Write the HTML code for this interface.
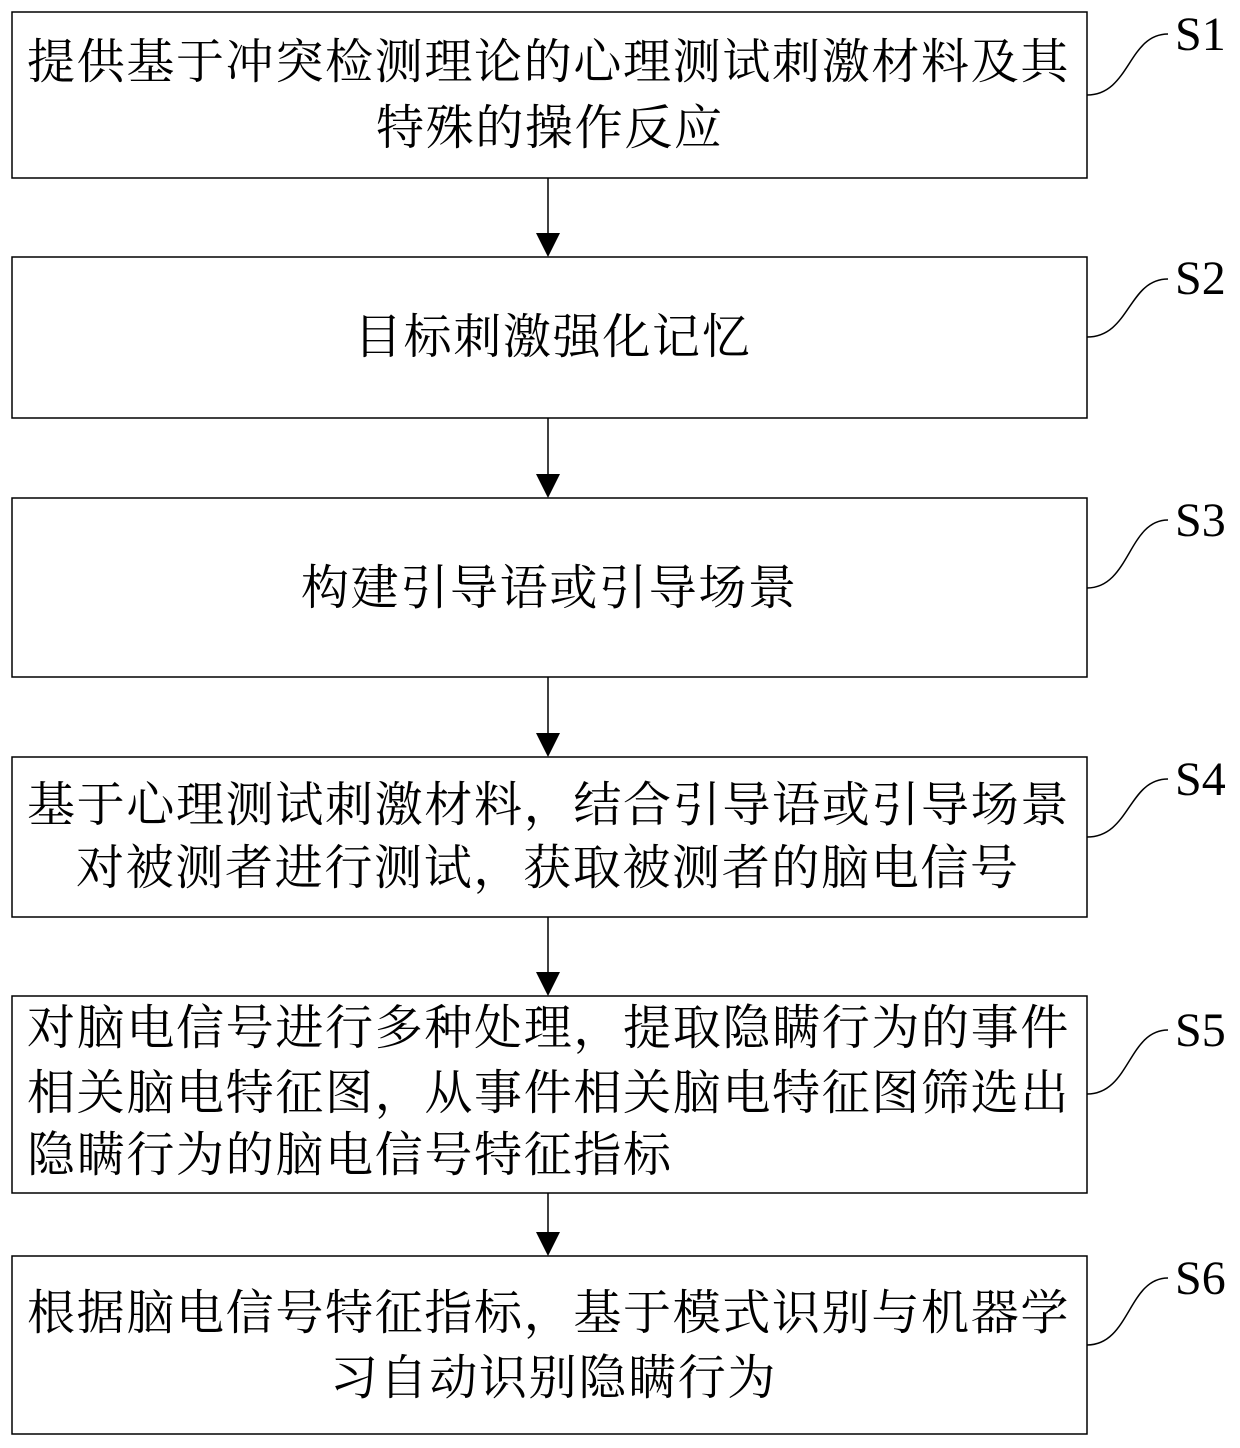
<!DOCTYPE html>
<html><head><meta charset="utf-8"><style>
html,body{margin:0;padding:0;background:#fff;}
svg{display:block;}
text{font-family:"Liberation Serif","Noto Serif CJK SC",serif;fill:#000;}
.c{font-size:48px;letter-spacing:1.67px;}
.s{font-size:48px;}
</style></head><body>
<svg width="1240" height="1448" viewBox="0 0 1240 1448" xmlns="http://www.w3.org/2000/svg">
<g fill="none" stroke="#000" stroke-width="1.5">
<rect x="12" y="12" width="1075" height="166"/>
<rect x="12" y="257" width="1075" height="161"/>
<rect x="12" y="498" width="1075" height="179"/>
<rect x="12" y="757" width="1075" height="160"/>
<rect x="12" y="996" width="1075" height="197"/>
<rect x="12" y="1256" width="1075" height="178"/>
<path d="M1087,95 C1130,95 1128,34 1168,34"/>
<path d="M1087,337 C1130,337 1128,279 1168,279"/>
<path d="M1087,588 C1130,588 1128,520 1168,520"/>
<path d="M1087,837 C1130,837 1128,779 1168,779"/>
<path d="M1087,1094 C1130,1094 1128,1030 1168,1030"/>
<path d="M1087,1345 C1130,1345 1128,1278 1168,1278"/>
<path d="M548,178 V233 M548,418 V474 M548,677 V733 M548,917 V972 M548,1193 V1232"/>
</g>
<g fill="#000">
<path d="M536,233 L560,233 L548,257 Z"/>
<path d="M536,474 L560,474 L548,498 Z"/>
<path d="M536,733 L560,733 L548,757 Z"/>
<path d="M536,972 L560,972 L548,996 Z"/>
<path d="M536,1232 L560,1232 L548,1256 Z"/>
</g>
<text class="s" x="1175" y="50">S1</text>
<text class="s" x="1175" y="294">S2</text>
<text class="s" x="1175" y="536">S3</text>
<text class="s" x="1175" y="795">S4</text>
<text class="s" x="1175" y="1046">S5</text>
<text class="s" x="1175" y="1294">S6</text>
<text class="c" x="27" y="78">提供基于冲突检测理论的心理测试刺激材料及其</text>
<text class="c" x="376" y="144">特殊的操作反应</text>
<text class="c" x="354" y="353">目标刺激强化记忆</text>
<text class="c" x="301" y="604">构建引导语或引导场景</text>
<text class="c" x="27" y="821">基于心理测试刺激材料，结合引导语或引导场景</text>
<text class="c" x="76" y="884">对被测者进行测试，获取被测者的脑电信号</text>
<text class="c" x="27" y="1044">对脑电信号进行多种处理，提取隐瞒行为的事件</text>
<text class="c" x="27" y="1109">相关脑电特征图，从事件相关脑电特征图筛选出</text>
<text class="c" x="27" y="1171">隐瞒行为的脑电信号特征指标</text>
<text class="c" x="27" y="1329">根据脑电信号特征指标，基于模式识别与机器学</text>
<text class="c" x="330" y="1394">习自动识别隐瞒行为</text>
</svg>
</body></html>
